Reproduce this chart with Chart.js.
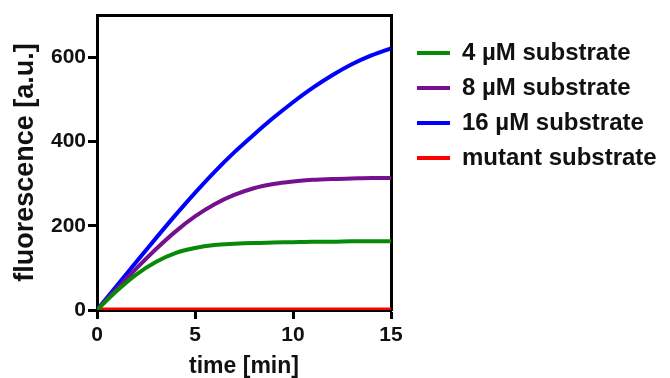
<!DOCTYPE html>
<html>
<head>
<meta charset="utf-8">
<script src="https://cdn.jsdelivr.net/npm/chart.js@4.4.1/dist/chart.umd.min.js"></script>
<style>
  html, body { margin: 0; padding: 0; background: #fff; }
  #wrap { width: 670px; height: 378px; position: relative; }
</style>
</head>
<body>
<div id="wrap"><canvas id="kineticsChart"></canvas></div>
<script>
// tiempo en minutos y señal de fluorescencia de cada curva
const times = [0, 1, 2, 3, 4, 5, 6, 7, 8, 9, 10, 11, 12, 13, 14, 15];
const sub4 = [0, 45, 84, 114, 135, 147, 154, 157, 159, 160, 161, 162, 162, 163, 163, 163];
const sub8 = [0, 50, 98, 144, 186, 222, 251, 273, 289, 299, 305, 309, 311, 312, 313, 313];
const sub16 = [0, 57, 114, 170, 225, 278, 328, 374, 416, 456, 493, 527, 557, 583, 604, 621];
const mutant = [1, 1, 1, 1, 1, 1, 1, 1, 1, 1, 1, 1, 1, 1, 1, 1];

const seriesLabels = ['4 µM substrate', '8 µM substrate', '16 µM substrate', 'mutant substrate'];
const seriesColors = ['#078a07', '#74118f', '#0000ff', '#ff0000'];
const xTicks = [0, 5, 10, 15];
const yTicks = [0, 200, 400, 600];

const FONT = "'Liberation Sans', Arial, Helvetica, sans-serif";
const INK = '#111111';

document.addEventListener('DOMContentLoaded', function() {
  initializeKineticsChart();
});

function toPoints(values) {
  return times.map((t, i) => ({ x: t, y: values[i] }));
}

function initializeKineticsChart() {
  const ctx = document.getElementById('kineticsChart').getContext('2d');

  const allSeries = [sub4, sub8, sub16, mutant];
  const datasets = allSeries.map((values, i) => ({
    label: seriesLabels[i],
    data: toPoints(values),
    borderColor: seriesColors[i],
    backgroundColor: seriesColors[i],
    borderWidth: 4,
    pointRadius: 0,
    cubicInterpolationMode: 'monotone',
    fill: false
  }));

  // ejes negros con marcas hacia fuera
  const axisLine = { display: true, color: '#000', width: 3 };
  const tickMarks = { display: true, drawOnChartArea: false, drawTicks: true, tickLength: 9, tickWidth: 3, tickColor: '#000' };

  new Chart(ctx, {
    type: 'line',
    data: { datasets: datasets },
    options: {
      responsive: true,
      maintainAspectRatio: false,
      animation: false,
      layout: { padding: { top: 0, left: 0, bottom: 0, right: 10 } },
      scales: {
        x: {
          type: 'linear',
          position: 'bottom',
          min: 0,
          max: 15,
          border: axisLine,
          grid: tickMarks,
          ticks: { stepSize: 5, padding: 4, color: INK, font: { family: FONT, size: 21, weight: 'bold' } },
          afterBuildTicks: s => { s.ticks = s.ticks.filter(t => xTicks.includes(t.value)); },
          title: { display: true, text: 'time [min]', color: INK, padding: { top: 0, bottom: 0 },
                   font: { family: FONT, size: 23, weight: 'bold', lineHeight: 1.0 } },
          afterFit: s => { s.height = 68; }
        },
        y: {
          type: 'linear',
          position: 'left',
          min: 0,
          max: 700,
          border: axisLine,
          grid: tickMarks,
          ticks: { stepSize: 200, padding: 2, color: INK, font: { family: FONT, size: 21, weight: 'bold' } },
          afterBuildTicks: s => { s.ticks = s.ticks.filter(t => yTicks.includes(t.value)); },
          title: { display: true, text: 'fluorescence [a.u.]', color: INK, padding: { top: 9, bottom: 0 },
                   font: { family: FONT, size: 27, weight: 'bold' } },
          afterFit: s => { s.width = 97; }
        },
        // bordes superior y derecho del marco
        xTop: {
          type: 'linear',
          position: 'top',
          border: axisLine,
          grid: { display: false },
          ticks: { display: false },
          afterFit: s => { s.height = 15; }
        },
        yRight: {
          type: 'linear',
          position: 'right',
          border: axisLine,
          grid: { display: false },
          ticks: { display: false },
          afterFit: s => { s.width = 15; }
        }
      },
      plugins: {
        legend: {
          display: true,
          position: 'right',
          align: 'start',
          maxWidth: 254,
          title: { display: true, text: '', padding: 3, font: { size: 20 } },
          labels: {
            boxWidth: 33,
            boxHeight: 4,
            padding: 11,
            color: INK,
            font: { family: FONT, size: 24, weight: 'bold' },
            generateLabels: chart => Chart.defaults.plugins.legend.labels.generateLabels(chart)
              .map(item => Object.assign(item, { lineWidth: 0, fillStyle: item.strokeStyle }))
          }
        },
        tooltip: { enabled: false }
      }
    }
  });
}
</script>
</body>
</html>
